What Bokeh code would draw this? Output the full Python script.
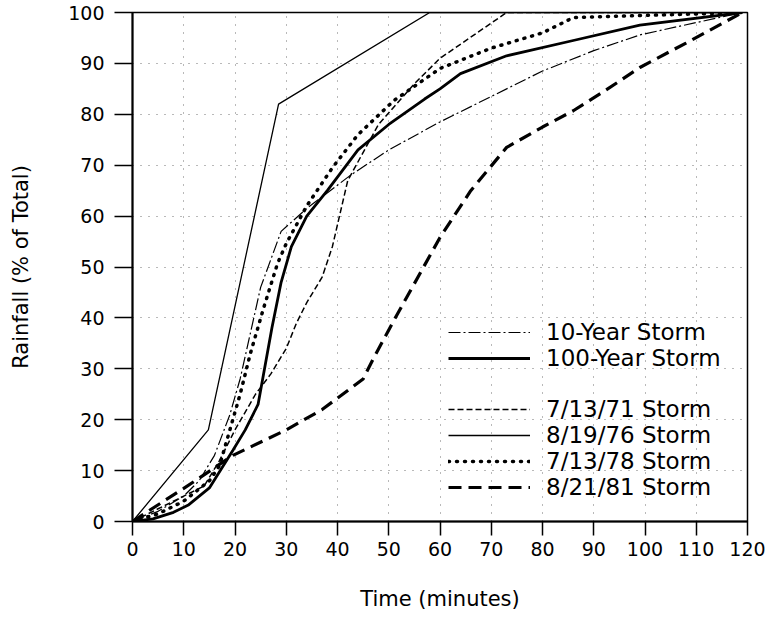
from bokeh.plotting import figure
from bokeh.models import Legend, LegendItem, Range1d, FixedTicker
from bokeh.embed import file_html
from bokeh.resources import INLINE

# ---- data ----
t_10yr = [0, 5, 10, 13, 16, 19, 21, 25, 29, 34, 42.5, 50, 60, 70, 80, 90, 99, 119]
v_10yr = [0, 2, 5, 8, 13, 21, 28, 46, 57, 61.5, 68, 73, 78.5, 83.5, 88.5, 92.5, 95.6, 100]

t_100yr = [0, 4, 8, 11, 15, 19.6, 22, 24.5, 27.2, 29, 31, 34, 38, 44, 50, 57, 60, 64, 73, 86, 99, 119]
v_100yr = [0, 0.5, 1.8, 3.3, 6.6, 14, 18, 23, 38, 47, 54, 60, 65, 73, 78, 83, 85, 88, 91.5, 94.5, 97.5, 100]

t_71 = [0, 5, 10, 14, 17, 20, 24, 27, 30, 32, 34, 37, 39, 42, 48, 55, 60, 73, 119]
v_71 = [0, 2.5, 5, 7, 12, 18, 25, 29, 34, 39, 43, 48, 54, 67, 78, 86, 91, 100, 100]

t_76 = [0, 14.8, 28.5, 58, 119]
v_76 = [0, 18, 82, 100, 100]

t_78 = [0, 5, 10, 15, 17, 19, 21, 23, 25.6, 28.3, 30, 34, 39, 44, 51, 60, 70, 80, 86, 119]
v_78 = [0, 1.5, 4, 8, 11, 18, 25, 33, 42, 50.7, 54.6, 62, 69.5, 76, 82.7, 89, 93, 96, 99, 100]

t_81 = [0, 3, 10, 19.6, 30, 37, 45, 47, 51, 60, 66, 73, 80, 86, 92, 99, 108, 119]
v_81 = [0, 2, 6.5, 13, 18, 22, 28, 32, 39.5, 55.8, 65, 73.5, 77.5, 80.7, 84.5, 89.2, 94, 100]

x_ticks = list(range(0, 121, 10))
y_ticks = list(range(0, 101, 10))

FONT = "DejaVu Sans"

p = figure(width=779, height=627, output_backend="svg", toolbar_location=None,
           x_range=Range1d(0, 120), y_range=Range1d(0, 100),
           min_border_left=132, min_border_right=32, min_border_top=12, min_border_bottom=106)

p.background_fill_color = "white"
p.border_fill_color = "white"
p.outline_line_color = "black"
p.outline_line_width = 1.5

for ax in (p.xaxis[0], p.yaxis[0]):
    ax.axis_line_width = 2
    ax.axis_line_color = "black"
    ax.major_tick_line_color = "black"
    ax.major_tick_line_width = 1.5
    ax.major_tick_in = 0
    ax.minor_tick_line_color = None
    ax.major_label_text_font = FONT
    ax.major_label_text_font_size = "19px"
    ax.major_label_text_color = "black"
    ax.axis_label_text_font = FONT
    ax.axis_label_text_font_size = "21px"
    ax.axis_label_text_font_style = "normal"
    ax.axis_label_text_color = "black"

p.xaxis.ticker = FixedTicker(ticks=x_ticks)
p.yaxis.ticker = FixedTicker(ticks=y_ticks)
p.xaxis.axis_label = "Time (minutes)"
p.yaxis.axis_label = "Rainfall (% of Total)"
p.yaxis.major_tick_out = 18
p.xaxis.major_tick_out = 14
p.xaxis.major_label_standoff = 6
p.yaxis.major_label_standoff = 10
p.xaxis.axis_label_standoff = 28
p.yaxis.axis_label_standoff = 32

p.grid.grid_line_color = "black"
p.grid.grid_line_alpha = 0.55
p.grid.grid_line_dash = "1 7"
p.grid.grid_line_width = 1

r10 = p.line(t_10yr, v_10yr, line_color="black", line_width=1.2, line_dash="12 3 2 3")
r100 = p.line(t_100yr, v_100yr, line_color="black", line_width=2.8)
r71 = p.line(t_71, v_71, line_color="black", line_width=1.5, line_dash="6 3")
r76 = p.line(t_76, v_76, line_color="black", line_width=1.3)
r78 = p.line(t_78, v_78, line_color="black", line_width=3.5, line_dash="1 7", line_cap="round")
r81 = p.line(t_81, v_81, line_color="black", line_width=3.2, line_dash="13 7")

def make_legend(items, loc):
    lg = Legend(items=items, location=loc, glyph_width=82, glyph_height=20,
                label_standoff=16, spacing=0, padding=0, margin=0, label_height=20,
                border_line_color=None, background_fill_alpha=0,
                label_text_font=FONT, label_text_font_size="23px",
                label_text_color="black")
    return lg

lg1 = make_legend([LegendItem(label="10-Year Storm", renderers=[r10]),
                   LegendItem(label="100-Year Storm", renderers=[r100])], (316, 150))
lg2 = make_legend([LegendItem(label="7/13/71 Storm", renderers=[r71]),
                   LegendItem(label="8/19/76 Storm", renderers=[r76]),
                   LegendItem(label="7/13/78 Storm", renderers=[r78]),
                   LegendItem(label="8/21/81 Storm", renderers=[r81])], (316, 21))
p.add_layout(lg1, "center")
p.add_layout(lg2, "center")

open("out.html", "w").write(file_html(p, INLINE))
